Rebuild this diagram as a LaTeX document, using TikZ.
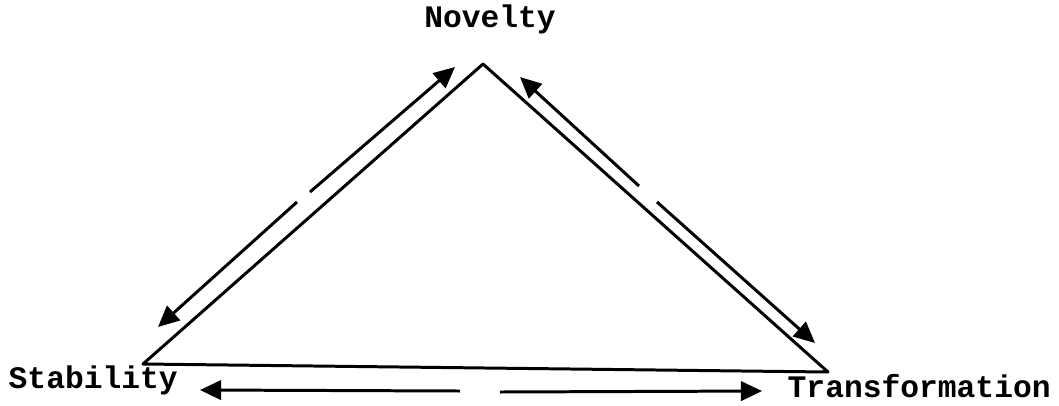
\documentclass[tikz,border=0pt]{standalone}
\usepackage{fontspec}
\setmonofont{Liberation Mono}
\usetikzlibrary{arrows.meta}
\tikzset{
  pole/.style={font=\ttfamily\bfseries\fontsize{8.9}{10}\selectfont, inner sep=0pt},
  side/.style={line width=0.85pt, line join=round},
  flow/.style={line width=0.85pt},
  headed/.style={-{Triangle[length=6pt,width=5.5pt]}}
}

\begin{document}
\begin{tikzpicture}[x=0.01cm, y=-0.01cm]
  \useasboundingbox (0,0) rectangle (1059,405);
  % corners of the triangle
  \coordinate (top) at (483,64);
  \coordinate (left) at (143,364);
  \coordinate (right) at (828,372);
  \draw[side] (left) -- (top) -- (right) -- cycle;
  \node[pole, anchor=base] (nov) at (490,27) {Novelty};
  \node[pole, anchor=base west] (stab) at (8,388) {Stability};
  \node[pole, anchor=base west] (trans) at (787,397) {Transformation};
  % arrows beside the sides, each broken in the middle
  \coordinate (sn1) at (158,327); \coordinate (sn2) at (297,202);
  \coordinate (sn3) at (310,192); \coordinate (sn4) at (455,67);
  \draw[flow, headed] (sn2) -- (sn1);
  \draw[flow, headed] (sn3) -- (sn4);
  \coordinate (nt1) at (520,77); \coordinate (nt2) at (639,186);
  \coordinate (nt3) at (657,202); \coordinate (nt4) at (815,343);
  \draw[flow, headed] (nt2) -- (nt1);
  \draw[flow, headed] (nt3) -- (nt4);
  \coordinate (st1) at (200,390); \coordinate (st2) at (460,391);
  \coordinate (st3) at (500,392); \coordinate (st4) at (762,391);
  \draw[flow, headed] (st2) -- (st1);
  \draw[flow, headed] (st3) -- (st4);
\end{tikzpicture}
\end{document}
